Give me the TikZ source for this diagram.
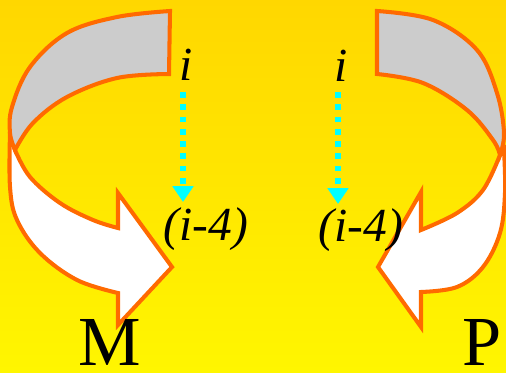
\documentclass[tikz,border=0pt]{standalone}
\usepackage{fontspec}
\setmainfont{Liberation Serif}
\usetikzlibrary{arrows.meta}
\definecolor{bgtop}{HTML}{FFD700}
\definecolor{bgbot}{HTML}{FFF600}
\definecolor{ribbon}{HTML}{FF6A00}
\definecolor{backside}{HTML}{CCCCCC}
\definecolor{dotcyan}{HTML}{00FFFF}
\tikzset{
  band/.style={draw=ribbon, line width=2.3pt, line join=miter, miter limit=10},
  lbl/.style={font=\fontsize{27}{30}\selectfont\itshape, inner sep=0pt, anchor=base},
  big/.style={font=\fontsize{40}{44}\selectfont, inner sep=0pt, anchor=base},
  dots/.style={dotcyan, line width=3.2pt, dash pattern=on 3.2pt off 3.8pt,
    -{Triangle[width=11.5pt,length=9pt]}}
}
\begin{document}
\begin{tikzpicture}[x=0.02cm, y=-0.02cm]
\useasboundingbox (0,0) rectangle (506,372);
\shade[top color=bgtop, bottom color=bgbot] (0,0) rectangle (506,372);

% left arrow: front (white) part
\filldraw[band, fill=white]
  plot[smooth, tension=0.6] coordinates {(10,133) (10,187) (17,220) (40,253) (77,280) (118,293)}
  -- (118,325) -- (172,267) -- (118,193) -- (118,228)
  -- plot[smooth, tension=0.6] coordinates {(118,228) (93,220) (60,203) (30,177) (15,150)}
  -- cycle;
% left arrow: back (grey) part
\filldraw[band, fill=backside]
  (170,11) -- (169,74)
  -- plot[smooth, tension=0.6] coordinates {(169,74) (117,78) (67,97) (33,123) (15,150)}
  -- plot[smooth, tension=0.6] coordinates {(15,150) (10,133) (12,107) (30,67) (67,33) (117,17) (170,11)}
  -- cycle;

% right arrow: front (white) part
\filldraw[band, fill=white]
  plot[smooth, tension=0.6] coordinates {(504,150) (505,193) (500,233) (483,267) (457,287) (421,292)}
  -- (421,327) -- (378,267) -- (421,192) -- (421,230)
  -- plot[smooth, tension=0.6] coordinates {(421,230) (457,213) (483,190) (500,155)}
  -- cycle;
% right arrow: back (grey) part
\filldraw[band, fill=backside]
  (377,11) -- (377,74)
  -- plot[smooth, tension=0.6] coordinates {(377,74) (423,83) (467,110) (493,140) (500,155)}
  -- plot[smooth, tension=0.6] coordinates {(500,155) (504,133) (497,93) (477,50) (433,20) (377,11)}
  -- cycle;

% labels
\node[lbl] (iL) at (186,80) {i};
\node[lbl] (i4L) at (206,240) {(i-4)};
\node[lbl] (iR) at (341,81) {i};
\node[lbl] (i4R) at (361,241) {(i-4)};
\node[big] (M) at (110,365) {M};
\node[big] (P) at (482,365) {P};

% dotted arrows
\coordinate (aL1) at (183,92);
\coordinate (aL2) at (183,202);
\coordinate (aR1) at (338,92);
\coordinate (aR2) at (338,204);
\draw[dots] (aL1) -- (aL2);
\draw[dots] (aR1) -- (aR2);
\end{tikzpicture}
\end{document}
